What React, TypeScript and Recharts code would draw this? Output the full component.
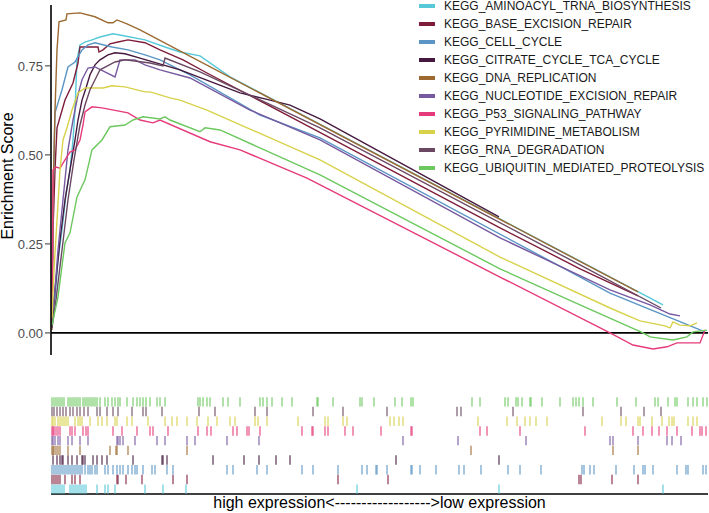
import React from 'react';
import {
  LineChart,
  Line,
  XAxis,
  YAxis,
  ReferenceLine,
  ScatterChart,
  Scatter
} from 'recharts';

// gene rank runs 0..657, running enrichment score
const RANK_MAX = 657;
const yTicks = [0, 0.25, 0.5, 0.75];

const aminoacylCurve = [[1,0.051],[4,0.093],[7,0.205],[11,0.289],[15,0.388],[19,0.458],[22,0.542],[24,0.626],[26,0.767],[29,0.809],[34,0.817],[41,0.823],[49,0.831],[62,0.84],[74,0.834],[94,0.823],[114,0.803],[129,0.789],[149,0.778],[179,0.719],[612,0.079]];
const baseExcisionCurve = [[1,0.037],[2,0.289],[4,0.458],[6,0.576],[14,0.654],[22,0.702],[27,0.758],[29,0.803],[47,0.803],[48,0.789],[52,0.795],[59,0.812],[67,0.817],[77,0.823],[94,0.815],[109,0.795],[132,0.767],[156,0.73],[249,0.593],[449,0.295],[529,0.18],[587,0.104]];
const cellCycleCurve = [[1,0.093],[2,0.374],[4,0.618],[11,0.683],[17,0.747],[24,0.761],[31,0.795],[37,0.809],[44,0.815],[61,0.803],[77,0.795],[94,0.781],[109,0.767],[139,0.725],[209,0.612],[269,0.548],[559,0.112],[654,0.003]];
const citrateCurve = [[1,0.022],[4,0.121],[9,0.261],[14,0.374],[19,0.458],[24,0.542],[27,0.598],[31,0.654],[35,0.688],[39,0.725],[44,0.753],[49,0.767],[57,0.781],[64,0.787],[74,0.784],[89,0.772],[129,0.739],[189,0.674],[219,0.654],[239,0.64],[269,0.601],[448,0.326]];
const dnaReplicationCurve = [[1,0.008],[2,0.374],[4,0.626],[6,0.795],[8,0.874],[15,0.879],[16,0.896],[29,0.899],[44,0.888],[57,0.871],[62,0.871],[66,0.879],[76,0.868],[89,0.851],[587,0.115]];
const nucleotideCurve = [[1,0.031],[4,0.121],[7,0.233],[12,0.374],[17,0.514],[22,0.598],[27,0.669],[31,0.711],[37,0.744],[44,0.747],[64,0.719],[69,0.767],[84,0.767],[94,0.753],[109,0.739],[139,0.716],[199,0.626],[269,0.542],[449,0.267],[559,0.121],[599,0.079],[619,0.053],[629,0.048]];
const p53Curve = [[1,0.037],[1.5,0.233],[2,0.458],[5,0.466],[9,0.463],[14,0.486],[19,0.508],[24,0.514],[29,0.542],[32,0.584],[34,0.621],[41,0.635],[51,0.632],[77,0.618],[89,0.598],[102,0.59],[109,0.598],[159,0.537],[189,0.514],[256,0.435],[449,0.157],[559,0],[582,-0.034],[602,-0.045],[616,-0.039],[626,-0.028],[649,-0.028],[654,0.008]];
const pyrimidineCurve = [[1,0.042],[3,0.177],[6,0.317],[9,0.458],[12,0.542],[16,0.576],[21,0.626],[27,0.674],[34,0.688],[52,0.688],[61,0.694],[74,0.691],[94,0.677],[99,0.677],[119,0.66],[129,0.654],[156,0.626],[269,0.486],[449,0.213],[559,0.07],[582,0.042],[589,0.034],[614,0.02],[619,0.014],[622,0.031],[629,0.022],[639,0.02],[646,0.028]];
const rnaDegradationCurve = [[1,0.014],[5,0.093],[11,0.233],[17,0.374],[23,0.486],[29,0.584],[34,0.64],[39,0.683],[44,0.711],[49,0.739],[64,0.761],[74,0.767],[99,0.758],[112,0.75],[114,0.772],[149,0.733],[269,0.576],[529,0.191],[610,0.07]];
const ubiquitinCurve = [[1,0.022],[7,0.101],[14,0.253],[19,0.281],[26,0.382],[34,0.43],[41,0.514],[51,0.542],[59,0.579],[74,0.584],[82,0.598],[92,0.607],[109,0.601],[114,0.607],[119,0.598],[149,0.565],[154,0.576],[169,0.57],[269,0.444],[449,0.18],[529,0.079],[592,0],[599,-0.011],[622,-0.02],[636,-0.011],[642,0.003],[656,0.008]];

// hit positions (gene ranks) for the rug panel
const aminoacylHits = [1,3,5,7,9,11,13,19,21,23,25,27,29,31,33,35,46,54,57,64,94,112,135,306,448,612];
const baseExcisionHits = [1,3,5,7,9,14,21,24,29,66,67,75,91,122,136,287,337,528,530,561,587];
const cellCycleHits = [1,3,5,7,9,11,13,15,17,19,21,23,25,27,29,31,34,37,39,41,44,46,54,57,62,66,69,72,77,81,84,86,92,101,104,116,122,176,182,206,216,251,262,287,311,316,325,326,336,360,361,369,385,408,413,430,457,469,490,531,533,539,543,565,583,592,594,602,626,635,637,652,655];
const citrateHits = [2,6,9,11,12,17,21,26,31,32,34,42,46,51,56,82,111,112,116,162,193,208,225,239,345,448];
const dnaReplicationHits = [1,2,3,5,7,9,17,29,59,65,66,77,136,420,562,587];
const nucleotideHits = [1,2,4,7,9,17,21,29,37,66,67,69,72,84,106,114,136,144,176,208,352,407,475,559,562,587,616,621,630];
const p53Hits = [1,2,3,5,7,9,19,21,24,32,35,37,62,71,86,99,102,117,147,156,160,182,186,196,198,209,251,261,262,274,277,294,302,330,360,361,429,436,469,534,582,592,601,608,616,626,641,649,651,655];
const pyrimidineHits = [1,2,4,7,9,11,13,15,17,24,27,29,31,39,47,51,56,64,66,76,81,97,114,121,126,136,146,157,166,179,184,204,207,216,247,274,277,292,296,339,343,348,352,427,456,466,474,479,485,496,551,570,575,587,589,601,611,618,621,623,637,642,646];
const rnaDegradationHits = [1,3,6,9,12,15,19,22,26,29,33,37,46,49,56,62,67,81,92,95,111,148,164,204,216,262,292,336,406,410,462,532,570,593,610];
const ubiquitinHits = [1,3,5,7,9,11,13,17,19,21,23,25,27,29,32,34,36,38,40,42,44,46,49,54,57,61,64,67,69,76,82,86,89,92,95,99,106,109,114,147,149,152,156,159,172,177,189,209,212,216,221,231,241,266,267,282,309,311,323,344,351,360,362,421,429,454,457,465,467,471,479,480,491,509,522,525,528,532,542,566,585,604,607,617,624,626,637,642,646,652,656];

const geneSets = [
  { name: 'KEGG_AMINOACYL_TRNA_BIOSYNTHESIS', color: '#56C8D8', curve: aminoacylCurve, hits: aminoacylHits },
  { name: 'KEGG_BASE_EXCISION_REPAIR', color: '#7E1D3A', curve: baseExcisionCurve, hits: baseExcisionHits },
  { name: 'KEGG_CELL_CYCLE', color: '#5A95C5', curve: cellCycleCurve, hits: cellCycleHits },
  { name: 'KEGG_CITRATE_CYCLE_TCA_CYCLE', color: '#45193F', curve: citrateCurve, hits: citrateHits },
  { name: 'KEGG_DNA_REPLICATION', color: '#9C6A31', curve: dnaReplicationCurve, hits: dnaReplicationHits },
  { name: 'KEGG_NUCLEOTIDE_EXCISION_REPAIR', color: '#7759A0', curve: nucleotideCurve, hits: nucleotideHits },
  { name: 'KEGG_P53_SIGNALING_PATHWAY', color: '#E63B7A', curve: p53Curve, hits: p53Hits },
  { name: 'KEGG_PYRIMIDINE_METABOLISM', color: '#D8D24B', curve: pyrimidineCurve, hits: pyrimidineHits },
  { name: 'KEGG_RNA_DEGRADATION', color: '#6A4862', curve: rnaDegradationCurve, hits: rnaDegradationHits },
  { name: 'KEGG_UBIQUITIN_MEDIATED_PROTEOLYSIS', color: '#6CC85F', curve: ubiquitinCurve, hits: ubiquitinHits }
];

const FONT = '"Liberation Sans", Arial, Helvetica, sans-serif';

const LegendBox = () => (
  <div style={{ position: 'absolute', left: 419, top: -3, fontFamily: FONT, fontSize: 12, color: '#1a1a1a' }}>
    {geneSets.map(s => (
      <div key={s.name} style={{ display: 'flex', alignItems: 'center', height: 18 }}>
        <span style={{ width: 16, height: 4, background: s.color, marginRight: 9 }} />
        <span style={{ whiteSpace: 'nowrap' }}>{s.name}</span>
      </div>
    ))}
  </div>
);

const AxisTitle = () => (
  <text x={13} y={176} transform="rotate(-90 13 176)" textAnchor="middle"
    fontFamily={FONT} fontSize={16} fill="#000">Enrichment Score</text>
);

export default function App() {
  return (
    <div style={{ position: 'absolute', left: 0, top: 0, width: 709, height: 513, background: '#fff', fontFamily: FONT }}>
      <div style={{ position: 'absolute', left: 0, top: 0 }}>
        <LineChart width={709} height={360} margin={{ top: 5, right: 1, left: 0, bottom: 5 }}>
          <XAxis type="number" dataKey="rank" domain={[0, RANK_MAX]} hide allowDataOverflow />
          <YAxis
            type="number"
            domain={[-0.062, 0.921]}
            ticks={yTicks}
            width={51}
            tickFormatter={(v: number) => v.toFixed(2)}
            tick={{ fill: '#4D4D4D', fontSize: 13, fontFamily: FONT }}
            tickLine={{ stroke: '#333' }}
            axisLine={{ stroke: '#000', strokeWidth: 1.6 }}
            allowDataOverflow
            label={<AxisTitle />}
          />
          <ReferenceLine y={0} stroke="#000" strokeWidth={1.6} />
          {geneSets.map(s => (
            <Line
              key={s.name}
              data={s.curve.map(([rank, es]) => ({ rank, es }))}
              dataKey="es"
              stroke={s.color}
              strokeWidth={1.4}
              dot={false}
              isAnimationActive={false}
            />
          ))}
        </LineChart>
      </div>
      <LegendBox />
      <div style={{ position: 'absolute', left: 0, top: 390 }}>
        <ScatterChart width={709} height={110} margin={{ top: 7, right: 1, left: 51, bottom: 6 }}>
          <XAxis type="number" dataKey="rank" domain={[0, RANK_MAX]} hide />
          <YAxis type="number" dataKey="row" domain={[0, 10]} hide />
          {geneSets.map((s, i) => (
            <Scatter
              key={s.name}
              data={s.hits.map(rank => ({ rank, row: i + 0.5 }))}
              isAnimationActive={false}
              shape={(p: any) => (
                <line x1={p.cx} x2={p.cx} y1={p.cy - 4.7} y2={p.cy + 4.7}
                  stroke={s.color} strokeWidth={1.2} strokeOpacity={0.9} />
              )}
            />
          ))}
          <ReferenceLine y={0} stroke="#000" strokeWidth={1.6} />
        </ScatterChart>
      </div>
      <div style={{ position: 'absolute', left: 51, width: 657, top: 495, textAlign: 'center', fontSize: 16, lineHeight: '16px', color: '#000', whiteSpace: 'nowrap' }}>
        high expression&lt;------------------&gt;low expression
      </div>
    </div>
  );
}
